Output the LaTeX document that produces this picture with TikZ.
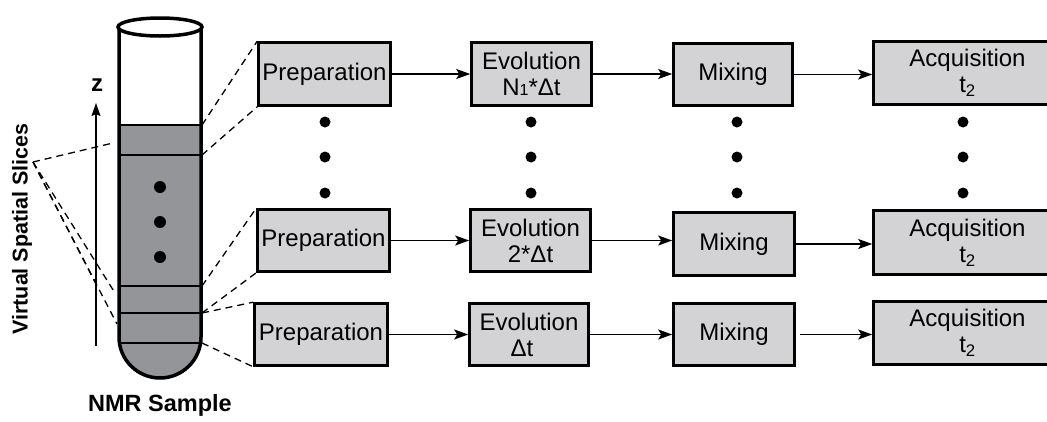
\documentclass[tikz,border=0pt]{standalone}
\usepackage{fontspec}
\setmainfont{Liberation Sans}
\usetikzlibrary{arrows.meta}
\definecolor{boxgray}{RGB}{211,211,213}
\definecolor{samplegray}{RGB}{147,149,152}
\begin{document}
\begin{tikzpicture}[x=1pt,y=-1pt,
  stagebox/.style={draw=black, line width=2.6pt, fill=boxgray, inner sep=0pt,
    align=center, font=\fontsize{24}{26}\selectfont},
  flow/.style={line width=1.4pt, -{Stealth[length=14pt,width=10pt,inset=3pt]}},
  slicelink/.style={line width=1.3pt, dash pattern=on 7pt off 5pt},
  vdot/.style={circle, fill=black, inner sep=0pt, minimum size=11pt},
  tubeline/.style={line width=3.5pt},
  sliceline/.style={line width=1.8pt},
  boldlabel/.style={font=\bfseries\fontsize{#1}{#1}\selectfont},
]
\useasboundingbox (0,0) rectangle (1047,421);

% ---- pulse-sequence blocks, one row per slice ----
\node[stagebox, minimum width=132, minimum height=63] (p1) at (324.5,74) {Preparation};
\node[stagebox, minimum width=120, minimum height=63] (e1) at (531.5,74) {Evolution\\N{\fontsize{16}{16}\selectfont 1}*Δt};
\node[stagebox, minimum width=119, minimum height=62] (m1) at (733,74.5) {Mixing};
\node[stagebox, minimum width=188, minimum height=63] (a1) at (967.5,73) {Acquisition\\t\textsubscript{2}};

\node[stagebox, minimum width=132, minimum height=62] (p2) at (323.5,240.5) {Preparation};
\node[stagebox, minimum width=120, minimum height=62] (e2) at (530.5,240.5) {Evolution\\2*Δt};
\node[stagebox, minimum width=121, minimum height=63] (m2) at (734,244) {Mixing};
\node[stagebox, minimum width=188, minimum height=64] (a2) at (967.5,242.5) {Acquisition\\t\textsubscript{2}};

\node[stagebox, minimum width=133, minimum height=62] (p3) at (321,334.5) {Preparation};
\node[stagebox, minimum width=119, minimum height=62] (e3) at (529,334.5) {Evolution\\Δt\hspace*{14pt}};
\node[stagebox, minimum width=121, minimum height=62] (m3) at (734,334.5) {Mixing};
\node[stagebox, minimum width=188, minimum height=63] (a3) at (967.5,333) {Acquisition\\t\textsubscript{2}};

% ---- flow arrows ----
\foreach \r in {1,2,3}{
  \draw[flow] (p\r.east) -- (p\r.east -| e\r.west);
  \draw[flow] (e\r.east) -- (e\r.east -| m\r.west);
}
\draw[flow] (m1.east) -- (m1.east -| a1.west);
\draw[flow] (m2.east) -- (m2.east -| a2.west);
\draw[flow, shorten <=4pt] (m3.east) -- (m3.east -| a3.west);

% ---- vertical ellipsis dots between rows ----
\foreach \x/\c in {325/p,531/e,737/m,963/a}{
  \node[vdot] (\c d1) at (\x,122) {};
  \node[vdot] (\c d2) at (\x,157) {};
  \node[vdot] (\c d3) at (\x,193) {};
}

% ---- NMR tube ----
\fill[samplegray] (119,125) -- (201,125) -- (201,337)
  arc[start angle=0, end angle=180, radius=41] -- cycle;
\foreach \y in {125,155,286,313}{
  \draw[sliceline] (119,\y) -- (201,\y);
}
\draw[sliceline] (119.4,343) -- (200.6,343);
\draw[tubeline] (119,27) -- (119,337)
  arc[start angle=180, end angle=0, radius=41] -- (201,27);
\draw[tubeline, fill=white] (160,27) ellipse[x radius=42, y radius=9];
\node[circle, fill=black, inner sep=0pt, minimum size=12pt] (td1) at (160,187) {};
\node[circle, fill=black, inner sep=0pt, minimum size=12pt] (td2) at (160,222) {};
\node[circle, fill=black, inner sep=0pt, minimum size=12pt] (td3) at (160,257) {};

% slice boundaries on the tube wall
\coordinate (s1top) at (202,125);
\coordinate (s1bot) at (202,155);
\coordinate (s2top) at (202,286);
\coordinate (s2bot) at (202,313);
\coordinate (s3bot) at (202,343);

% ---- z axis ----
\coordinate (zfoot) at (96,346);
\coordinate (zhead) at (96,103);
\draw[line width=1.2pt, -{Stealth[length=13pt,width=9pt,inset=2pt]}] (zfoot) -- (zhead);
\node[boldlabel=24] (zlab) at (97,85) {z};

% ---- slice-to-sequence projections ----
\draw[slicelink] (s1top) -- (p1.north west);
\draw[slicelink] (s1bot) -- (p1.south west);
\draw[slicelink] (s2top) -- (p2.north west);
\draw[slicelink] (s2bot) -- (p2.south west);
\draw[slicelink] (s2bot) -- (p3.north west);
\draw[slicelink] (s3bot) -- (p3.south west);

% ---- slice label and its pointers ----
\node[boldlabel=21.5, rotate=90] (vss) at (22,229) {Virtual Spatial Slices};
\coordinate (apex) at (33,162);
\coordinate (t1) at (113,143);
\coordinate (t2) at (96,284);
\coordinate (t3) at (115,293);
\coordinate (t4) at (117,324);
\draw[slicelink] (apex) -- (t1);
\draw[slicelink] (apex) -- (t2);
\draw[slicelink] (apex) -- (t3);
\draw[slicelink] (apex) -- (t4);

\node[boldlabel=23.5] (nmr) at (160,405) {NMR Sample};
\end{tikzpicture}
\end{document}
